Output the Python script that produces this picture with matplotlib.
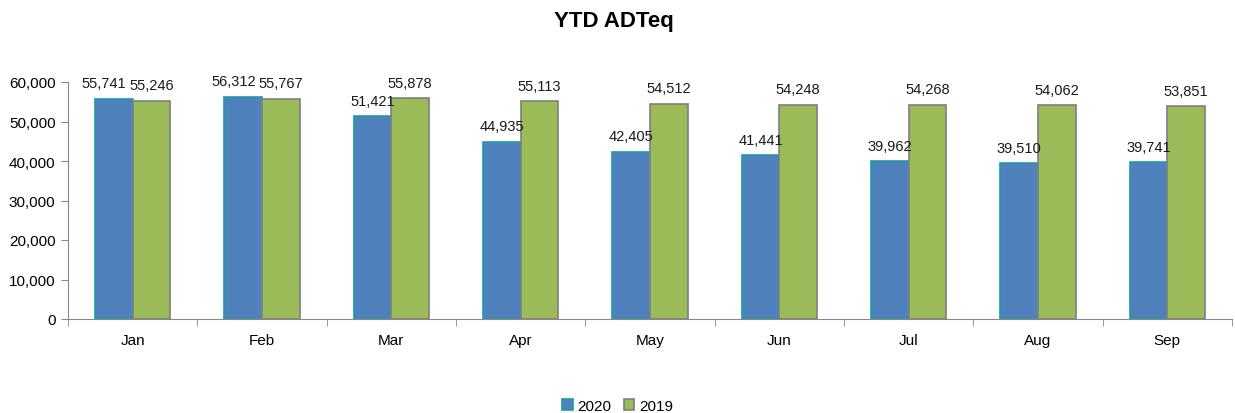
import numpy as np
import matplotlib.pyplot as plt

# datos
months = ['Jan', 'Feb', 'Mar', 'Apr', 'May', 'Jun', 'Jul', 'Aug', 'Sep']
vals_2020 = [55741, 56312, 51421, 44935, 42405, 41441, 39962, 39510, 39741]
vals_2019 = [55246, 55767, 55878, 55113, 54512, 54248, 54268, 54062, 53851]

plt.rcParams['font.family'] = ['Liberation Sans', 'DejaVu Sans']

fig = plt.figure(figsize=(12.35, 4.14), dpi=100)
ax = fig.add_axes([68 / 1235, 1 - 320 / 414, (1232 - 68) / 1235, (320 - 83) / 414 * 1.0])

x = np.arange(len(months))
w = 0.29

b1 = ax.bar(x - w / 2, vals_2020, w, color='#4F81BD', edgecolor='#1F9BAA', linewidth=1.2, label='2020')
b2 = ax.bar(x + w / 2, vals_2019, w, color='#9BBB59', edgecolor='#7F7F7F', linewidth=1.2, label='2019')

# etiquetas; si las dos barras tienen casi la misma altura, mover la de 2020 a la izquierda
for i, (r1, r2) in enumerate(zip(b1, b2)):
    h1, h2 = r1.get_height(), r2.get_height()
    dx = -7 if abs(h1 - h2) < 2000 else 0
    ax.annotate(f'{h1:,.0f}', (r1.get_x() + r1.get_width() / 2, h1),
                xytext=(dx, 6), textcoords='offset points',
                ha='center', va='bottom', fontsize=10.5, color='#1a1a1a')
    ax.annotate(f'{h2:,.0f}', (r2.get_x() + r2.get_width() / 2, h2),
                xytext=(0, 6), textcoords='offset points',
                ha='center', va='bottom', fontsize=10.5, color='#1a1a1a')

ax.set_xlim(-0.5, len(months) - 0.5)
ax.set_ylim(0, 60000)
ax.set_yticks(np.arange(0, 60001, 10000))
ax.yaxis.set_major_formatter(plt.FuncFormatter(lambda v, p: f'{v:,.0f}'))
ax.set_xticks(x)
ax.set_xticklabels(months)
ax.set_xticks(np.arange(-0.5, len(months)), minor=True)
ax.tick_params(axis='x', which='major', length=0, pad=10, labelsize=11)
ax.tick_params(axis='x', which='minor', length=5, color='#888888', direction='out')
ax.tick_params(axis='y', length=5, color='#888888', labelsize=11, pad=4)

for s in ['top', 'right']:
    ax.spines[s].set_visible(False)
for s in ['left', 'bottom']:
    ax.spines[s].set_color('#888888')

fig.text(0.497, 1 - 22 / 414, 'YTD ADTeq', ha='center', va='center', fontsize=16, fontweight='bold')

fig.legend(handles=[b1, b2], loc='center', bbox_to_anchor=(0.5, 1 - 407 / 414), ncol=2,
           frameon=False, fontsize=11, handlelength=0.7, handleheight=0.7,
           handletextpad=0.3, columnspacing=0.8)

fig.savefig('out.png', dpi=100)
